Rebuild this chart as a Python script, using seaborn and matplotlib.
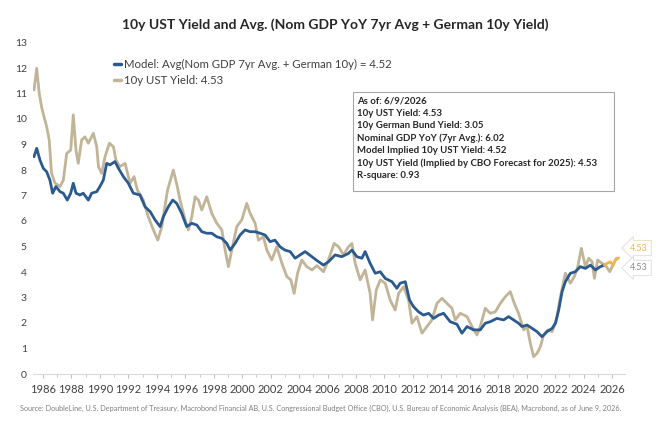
import numpy as np
import pandas as pd
import seaborn as sns
import matplotlib.pyplot as plt
from matplotlib.patches import Rectangle
from matplotlib.lines import Line2D
from matplotlib.ticker import MultipleLocator

# 10y UST yield
ust_year = [1985.37, 1985.56, 1985.74, 1985.9, 1986.07, 1986.26, 1986.44, 1986.6, 1986.84, 1987.2,
            1987.43, 1987.67, 1987.95, 1988.13, 1988.32, 1988.48, 1988.72, 1988.95, 1989.19, 1989.54,
            1989.78, 1989.9, 1990.13, 1990.36, 1990.67, 1990.95, 1991.13, 1991.4, 1991.77, 1992.12,
            1992.4, 1992.63, 1993.05, 1993.4, 1993.76, 1994.07, 1994.35, 1994.75, 1995.16, 1995.44,
            1995.63, 1995.99, 1996.22, 1996.46, 1996.69, 1996.92, 1997.16, 1997.51, 1997.86, 1998.22,
            1998.57, 1998.8, 1999.03, 1999.27, 1999.62, 1999.97, 2000.32, 2000.56, 2000.91, 2001.14,
            2001.49, 2001.73, 2002.08, 2002.43, 2002.79, 2003.14, 2003.42, 2003.65, 2003.89, 2004.19,
            2004.54, 2004.9, 2005.25, 2005.71, 2006.06, 2006.46, 2006.77, 2007.12, 2007.47, 2007.71,
            2007.94, 2008.29, 2008.64, 2008.99, 2009.16, 2009.42, 2009.7, 2010.05, 2010.4, 2010.75,
            2010.99, 2011.34, 2011.69, 2011.93, 2012.28, 2012.63, 2012.98, 2013.33, 2013.69, 2014.04,
            2014.39, 2014.74, 2014.97, 2015.32, 2015.8, 2016.15, 2016.5, 2016.73, 2017.08, 2017.43,
            2017.79, 2018.14, 2018.49, 2018.84, 2019.12, 2019.42, 2019.78, 2020.02, 2020.25, 2020.48,
            2020.72, 2020.95, 2021.18, 2021.47, 2021.78, 2022.08, 2022.36, 2022.71, 2023.06, 2023.34,
            2023.58, 2023.83, 2024.12, 2024.35, 2024.59, 2024.75, 2024.98, 2025.29, 2025.59, 2025.83,
            2026.11, 2026.3]
ust_yield = [11.14, 11.99, 11.0, 10.48, 10.09, 9.7, 9.18, 7.88, 7.49, 7.35,
             7.6, 8.65, 8.78, 10.16, 8.78, 8.26, 9.18, 9.3, 9.05, 9.44,
             8.91, 8.13, 7.87, 8.52, 9.05, 8.91, 8.39, 8.13, 8.26, 7.48,
             7.74, 7.22, 6.82, 6.17, 5.65, 5.25, 5.78, 7.2, 8.0, 7.35,
             6.82, 6.04, 5.65, 6.17, 6.95, 6.82, 6.43, 6.95, 6.3, 5.91,
             5.65, 4.86, 4.21, 4.86, 5.78, 6.04, 6.69, 6.3, 5.91, 5.25,
             5.38, 4.86, 4.47, 4.99, 4.34, 3.82, 3.69, 3.16, 3.95, 4.47,
             4.21, 4.08, 4.25, 4.01, 4.47, 5.12, 4.99, 4.67, 4.99, 5.12,
             4.34, 3.69, 4.08, 3.16, 2.12, 3.29, 3.69, 3.56, 2.9, 2.51,
             3.16, 3.42, 2.9, 1.99, 2.25, 1.6, 1.86, 2.12, 2.77, 2.97,
             2.77, 2.58, 2.12, 2.38, 2.25, 1.86, 1.53, 1.86, 2.58, 2.38,
             2.44, 2.77, 3.03, 3.23, 2.77, 2.38, 1.73, 1.86, 1.2, 0.68,
             0.81, 1.07, 1.53, 1.73, 1.66, 2.12, 3.03, 3.95, 3.56, 3.82,
             4.21, 4.93, 4.21, 4.54, 4.4, 3.75, 4.47, 4.34, 4.21, 4.01,
             4.34, 4.54]

# Model: Avg(Nom GDP 7yr Avg. + German 10y)
model_year = [1985.37, 1985.56, 1985.79, 1986.02, 1986.26, 1986.49, 1986.68, 1986.91, 1987.2, 1987.43,
              1987.71, 1987.95, 1988.13, 1988.32, 1988.6, 1988.83, 1989.19, 1989.42, 1989.78, 1990.0,
              1990.24, 1990.48, 1990.71, 1991.06, 1991.3, 1991.65, 1992.0, 1992.35, 1992.82, 1993.17,
              1993.53, 1993.88, 1994.23, 1994.46, 1994.81, 1995.12, 1995.4, 1995.75, 1996.1, 1996.46,
              1996.81, 1997.16, 1997.51, 1997.86, 1998.22, 1998.57, 1998.92, 1999.15, 1999.5, 1999.85,
              2000.2, 2000.56, 2000.91, 2001.26, 2001.61, 2001.96, 2002.3, 2002.66, 2003.0, 2003.37,
              2003.72, 2004.07, 2004.42, 2004.78, 2005.25, 2005.71, 2006.06, 2006.53, 2007.0, 2007.47,
              2007.71, 2008.06, 2008.41, 2008.64, 2008.99, 2009.35, 2009.7, 2010.05, 2010.52, 2010.87,
              2011.1, 2011.46, 2011.76, 2012.04, 2012.39, 2012.74, 2013.1, 2013.45, 2013.8, 2014.15,
              2014.62, 2015.09, 2015.44, 2015.8, 2016.26, 2016.73, 2017.08, 2017.43, 2017.9, 2018.37,
              2018.72, 2019.07, 2019.42, 2019.66, 2020.02, 2020.37, 2020.72, 2021.07, 2021.42, 2021.78,
              2022.01, 2022.24, 2022.48, 2022.71, 2023.06, 2023.41, 2023.76, 2024.12, 2024.47, 2024.82,
              2025.17, 2025.45]
model_yield = [8.52, 8.85, 8.39, 8.07, 7.93, 7.6, 7.09, 7.35, 7.15, 7.09,
               6.82, 7.09, 7.48, 7.09, 7.02, 7.09, 6.82, 7.09, 7.15, 7.35,
               7.6, 8.26, 8.2, 8.33, 8.07, 7.74, 7.48, 7.09, 7.02, 6.56,
               6.37, 6.04, 5.78, 6.17, 6.56, 6.82, 6.69, 6.3, 5.78, 5.91,
               5.84, 5.58, 5.52, 5.52, 5.38, 5.32, 5.12, 4.86, 5.12, 5.45,
               5.65, 5.58, 5.58, 5.52, 5.45, 5.19, 5.25, 4.99, 4.86, 4.8,
               4.54, 4.67, 4.8, 4.65, 4.45, 4.27, 4.4, 4.67, 4.6, 4.73,
               4.86, 4.6, 4.54, 4.8, 4.34, 3.95, 4.01, 3.75, 3.62, 3.36,
               3.56, 3.62, 2.9, 2.64, 2.44, 2.31, 2.38, 2.18, 2.31, 2.38,
               2.05, 1.95, 1.6, 1.86, 1.73, 1.73, 1.99, 2.05, 2.18, 2.12,
               2.25, 2.12, 1.99, 1.86, 1.92, 1.79, 1.66, 1.46, 1.66, 1.79,
               1.99, 2.51, 3.23, 3.62, 3.95, 4.01, 4.21, 4.14, 4.27, 4.08,
               4.21, 4.27]

# model projection (orange tail)
proj_year = [2025.45, 2025.64, 2025.87, 2026.06, 2026.22, 2026.45]
proj_yield = [4.27, 4.34, 4.4, 4.27, 4.47, 4.55]

info_lines = ["As of: 6/9/2026",
              "10y UST Yield: 4.53",
              "10y German Bund Yield: 3.05",
              "Nominal GDP YoY (7yr Avg.): 6.02",
              "Model Implied 10y UST Yield: 4.52",
              "10y UST Yield (Implied by CBO Forecast for 2025): 4.53",
              "R-square: 0.93"]

blue = "#2a5a8e"
tan = "#c1b497"
orange = "#f2b44c"

sns.set_style("white")
plt.rcParams['font.family'] = ['Lato', 'DejaVu Sans']

fig = plt.figure(figsize=(6.7, 4.24), dpi=100)
ax = fig.add_axes([33/670, 1 - 374/424, 592/670, 331.5/424])

ust = pd.DataFrame({"year": ust_year, "y": ust_yield})
model = pd.DataFrame({"year": model_year, "y": model_yield})
proj = pd.DataFrame({"year": proj_year, "y": proj_yield})

sns.lineplot(data=ust, x="year", y="y", color=tan, lw=2.0, ax=ax)
sns.lineplot(data=model, x="year", y="y", color=blue, lw=2.0, ax=ax)
sns.lineplot(data=proj, x="year", y="y", color=orange, lw=2.0, ax=ax)

ax.set_xlim(1985.3, 2026.9)
ax.set_ylim(0, 13)
ax.set_xlabel("")
ax.set_ylabel("")
ax.xaxis.set_minor_locator(MultipleLocator(1))
ax.set_xticks(range(1986, 2027, 2))
ax.yaxis.set_major_locator(MultipleLocator(1))
for s in ["top", "right", "left"]:
    ax.spines[s].set_visible(False)
ax.spines["bottom"].set_color("#d9d9d9")
ax.tick_params(axis="x", which="both", bottom=True, color="#bfbfbf", length=3,
               labelsize=8, labelcolor="#404040", pad=4)
ax.tick_params(axis="x", which="minor", length=2)
ax.tick_params(axis="y", left=False, labelsize=7.5, labelcolor="#404040", pad=1)

handles = [Line2D([], [], color=blue, lw=2.5), Line2D([], [], color=tan, lw=2.5)]
labels = ["Model: Avg(Nom GDP 7yr Avg. + German 10y) = 4.52", "10y UST Yield: 4.53"]
fig.legend(handles, labels, loc="upper left", bbox_to_anchor=(104/670, 1 - 49/424),
           frameon=False, fontsize=8.2, handlelength=0.6, handletextpad=0.25,
           labelspacing=0.45, labelcolor="#404040")

# info box
fig.patches.append(Rectangle((353/670, 1 - 191/424), 261/670, 99/424,
                             transform=fig.transFigure, fill=False,
                             edgecolor="#a6a6a6", lw=0.8))
fig.text(357/670, 1 - 97/424, "\n".join(info_lines), ha="left", va="top",
         fontsize=6.9, fontweight="bold", color="#262626", linespacing=1.43)

# end labels
ax.annotate("4.53", xy=(2027.1, 4.94), xytext=(2027.9, 4.94), ha="center", va="center",
            fontsize=6.5, color=orange, annotation_clip=False,
            bbox=dict(boxstyle="larrow,pad=0.35", fc="white", ec="#e8d9c0", lw=0.6))
ax.annotate("4.53", xy=(2027.1, 4.16), xytext=(2027.9, 4.16), ha="center", va="center",
            fontsize=6.5, color="#8c8c8c", annotation_clip=False,
            bbox=dict(boxstyle="larrow,pad=0.35", fc="white", ec="#dddddd", lw=0.6))

fig.text(335/670, 1 - 25/424,
         "10y UST Yield and Avg. (Nom GDP YoY 7yr Avg + German 10y Yield)",
         ha="center", va="center", fontsize=10, fontweight="bold", color="#262626")
fig.text(20/670, 1 - 408/424,
         "Source: DoubleLine, U.S. Department of Treasury, Macrobond Financial AB, U.S. Congressional Budget Office (CBO), "
         "U.S. Bureau of Economic Analysis (BEA), Macrobond, as of June 9, 2026.",
         ha="left", va="center", fontsize=5.2, color="#7f7f7f")

fig.savefig("out.png", dpi=100)
